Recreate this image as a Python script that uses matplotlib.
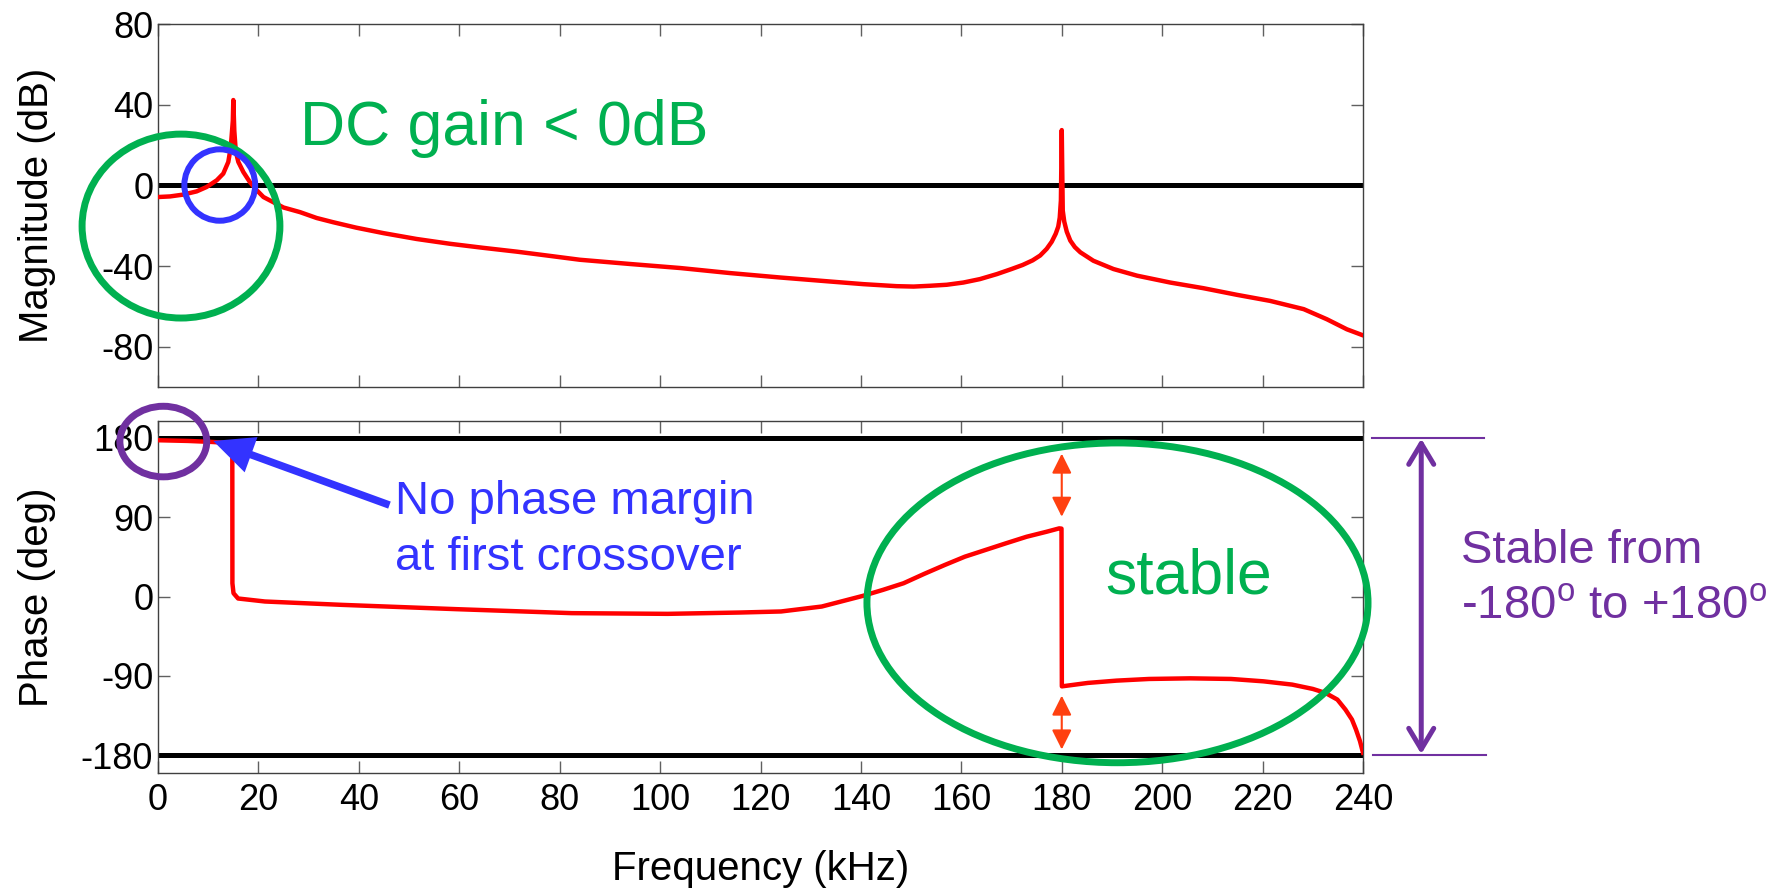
import matplotlib
matplotlib.use("Agg")
import matplotlib.pyplot as plt
from matplotlib.patches import Ellipse

plt.rcParams["font.family"] = ["Liberation Sans", "DejaVu Sans"]
plt.rcParams["axes.unicode_minus"] = False

# ---- data (kHz, dB, deg) ----
mag_freq = [0.0, 2.4, 5.0, 7.7, 9.7, 11.7, 13.0, 14.0, 14.5, 14.9, 15.0,
            15.2, 15.5, 16.0, 17.0, 18.3, 19.7, 21.0, 22.3, 25.0, 28.3, 31.6,
            34.9, 39.5, 44.9, 51.5, 58.2, 64.8, 71.5, 78.1, 84.0, 94.0, 104.0,
            113.9, 123.9, 133.9, 140.5, 147.1, 150.5, 153.8, 157.1, 160.4,
            163.7, 167.1, 170.0, 172.2, 174.2, 175.7, 177.0, 178.0, 178.8,
            179.3, 179.6, 179.83, 180.0, 180.2, 180.5, 181.0, 181.7, 182.6,
            183.7, 186.3, 190.3, 195.0, 201.6, 208.2, 214.9, 221.5, 228.2,
            232.8, 236.8, 239.8]
mag_db = [-5.8, -5.5, -4.6, -3.0, -0.8, 2.5, 5.8, 11.6, 19.0, 32.0, 42.3,
          27.0, 16.6, 11.6, 6.6, 1.6, -2.5, -5.8, -7.5, -11.0, -13.3, -16.2,
          -18.3, -21.0, -23.7, -26.6, -29.0, -31.0, -32.9, -35.0, -36.9, -39.0,
          -41.0, -43.5, -45.7, -47.7, -49.0, -50.0, -50.2, -49.8, -49.3,
          -48.2, -46.5, -44.0, -41.5, -39.5, -37.2, -34.8, -31.5, -28.0,
          -24.0, -20.5, -16.0, -7.5, 27.4, -12.5, -18.0, -23.0, -27.4,
          -30.6, -33.2, -37.4, -41.5, -44.8, -48.2, -51.0, -54.3, -57.3,
          -61.4, -66.4, -71.4, -74.2]

phase_freq = [0.0, 6.0, 10.6, 14.0, 14.8, 14.82, 15.04, 15.95, 21.3, 36.6,
              59.5, 82.4, 101.5, 115.9, 124.1, 132.2, 140.4, 144.4, 148.5,
              152.6, 156.7, 160.7, 164.8, 168.9, 173.0, 177.0, 179.5, 179.95,
              180.02, 185.2, 190.9, 197.4, 205.6, 213.7, 220.2, 225.9, 230.0,
              232.5, 234.9, 236.5, 237.8, 238.6, 239.4, 240.0]
phase_deg = [177.2, 176.4, 175.3, 174.1, 171.5, 15.1, 3.8, -2.2, -5.6, -9.4,
             -14.3, -18.8, -19.6, -18.1, -16.9, -11.3, 0.8, 7.6, 15.1,
             25.7, 35.8, 45.2, 52.8, 60.4, 67.8, 73.5, 77.3, 77.0,
             -101.8, -97.9, -95.3, -93.4, -92.7, -93.4, -96.1, -99.8, -104.7,
             -109.2, -116.8, -128.1, -139.4, -150.7, -163.9, -177.0]

freq_ticks = list(range(0, 241, 20))
mag_ticks = [-80, -40, 0, 40, 80]
phase_ticks = [-180, -90, 0, 90, 180]

GREEN = "#00B050"
BLUE = "#3333FF"
PURPLE = "#7030A0"
ORANGE = "#FF4010"

W, H = 1787, 888
fig = plt.figure(figsize=(W / 100, H / 100), dpi=100)
ax1 = fig.add_axes([158 / W, 1 - 387 / H, 1205 / W, 363 / H])
ax2 = fig.add_axes([158 / W, 1 - 773 / H, 1205 / W, 352 / H])

for ax in (ax1, ax2):
    ax.set_xlim(0, 240)
    ax.set_xticks(freq_ticks)
    for s in ax.spines.values():
        s.set_color("#404040")
        s.set_linewidth(1.0)
    ax.tick_params(direction="in", length=8.5, width=1, color="#606060",
                   top=True, right=True, labelsize=26)
    ax.tick_params(axis="y", pad=3.5)
    ax.tick_params(axis="x", pad=7)

# magnitude
ax1.axhline(0, color="black", lw=3.6, zorder=2)
ax1.plot(mag_freq, mag_db, color="red", lw=3.2, zorder=3,
         solid_joinstyle="round")
ax1.set_ylim(-100, 80)
ax1.set_yticks(mag_ticks)
ax1.tick_params(labelbottom=False)
ax1.set_ylabel("Magnitude (dB)", fontsize=29)
ax1.yaxis.set_label_coords(-0.0846, 0.5)

ax1.text(28.3, 19.9, "DC gain < 0dB", color=GREEN, fontsize=45,
         ha="left", va="baseline")
ax1.add_patch(Ellipse((4.58, -20.2), 39.4, 91.2, fill=False, ec=GREEN,
                      lw=5, clip_on=False, zorder=5))
ax1.add_patch(Ellipse((12.3, 0.15), 14.1, 35.4, fill=False, ec=BLUE,
                      lw=4.3, clip_on=False, zorder=6))

# phase
ax2.axhline(180, color="black", lw=3.6, zorder=2)
ax2.axhline(-180, color="black", lw=3.6, zorder=2)
ax2.plot(phase_freq, phase_deg, color="red", lw=3.2, zorder=3,
         solid_joinstyle="round")
ax2.set_ylim(-200, 199)
ax2.set_yticks(phase_ticks)
ax2.set_ylabel("Phase (deg)", fontsize=29)
ax2.yaxis.set_label_coords(-0.0846, 0.5)
ax2.set_xlabel("Frequency (kHz)", fontsize=29)
ax2.xaxis.set_label_coords(0.5, -0.22)

ax2.add_patch(Ellipse((1.06, 175.7), 17.3, 80, fill=False, ec=PURPLE,
                      lw=5, clip_on=False, zorder=5))
ax2.add_patch(Ellipse((191.1, -7.1), 99.8, 362.5, fill=False, ec=GREEN,
                      lw=5, clip_on=False, zorder=5))

ax2.annotate("", xy=(11.0, 176.4), xytext=(46.1, 103.7),
             arrowprops=dict(arrowstyle="simple,head_length=29,head_width=27,tail_width=5.4",
                             mutation_scale=1, color=BLUE, lw=0,
                             shrinkA=0, shrinkB=0), zorder=6)
ax2.text(47.2, 93.2, "No phase margin", color=BLUE, fontsize=34,
         ha="left", va="baseline")
ax2.text(47.2, 30.2, "at first crossover", color=BLUE, fontsize=34,
         ha="left", va="baseline")

ax2.text(188.7, 3.8, "stable", color=GREEN, fontsize=45, ha="left", va="baseline")

for y0, y1 in [(162, 90.5), (-112.3, -173.3)]:
    ax2.annotate("", xy=(180, y1), xytext=(180, y0),
                 arrowprops=dict(arrowstyle="<|-|>,head_length=12,head_width=6",
                                 mutation_scale=1, color=ORANGE, lw=1.5,
                                 shrinkA=0, shrinkB=0), zorder=6)

# range marker on the right
ax2.plot([241.7, 264.0], [180, 180], color=PURPLE, lw=1.5, clip_on=False)
ax2.plot([242.0, 264.4], [-180, -180], color=PURPLE, lw=1.5, clip_on=False)
ax2.annotate("", xy=(251.6, 179), xytext=(251.6, -178.5),
             arrowprops=dict(arrowstyle="<->,head_length=15,head_width=9",
                             mutation_scale=1, color=PURPLE, lw=3.6,
                             shrinkA=0, shrinkB=0),
             annotation_clip=False)
ax2.text(259.6, 37.8, "Stable from", color=PURPLE, fontsize=34,
         ha="left", va="baseline")
ax2.text(259.6, -24.4, r"-180$^{\mathregular{o}}$ to +180$^{\mathregular{o}}$",
         color=PURPLE, fontsize=34, ha="left", va="baseline")

fig.savefig("out.png", dpi=100)
